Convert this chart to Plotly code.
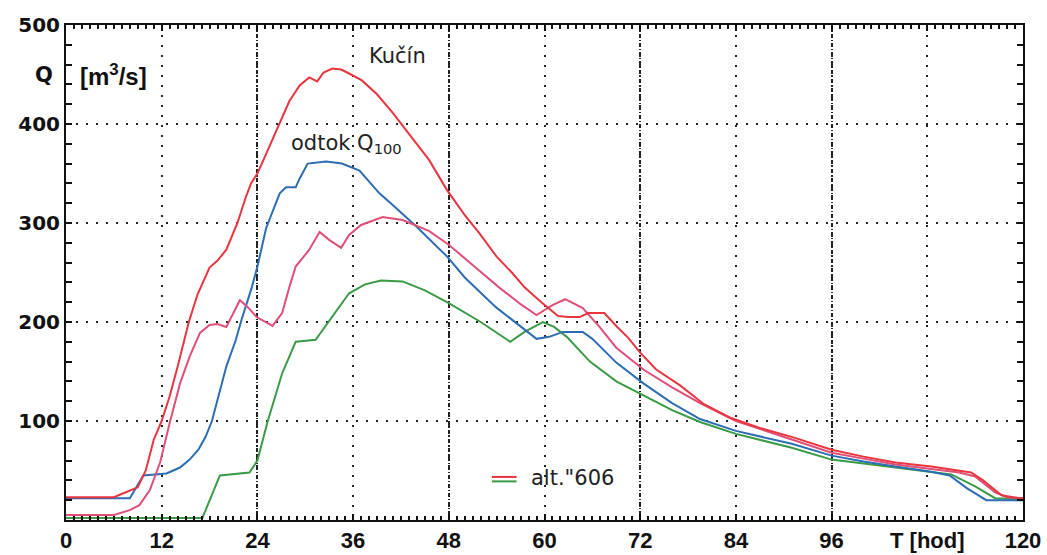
import plotly.graph_objects as go

# ---------------- data ----------------
kucin_t = [0, 6, 7.5, 9, 10, 11, 12, 13, 14, 15.4, 16.5, 18, 19, 20.1, 21.5, 22.5, 23.2, 24, 25,
           26.8, 28, 29.3, 30.5, 31.5, 32.3, 33.4, 34.5, 35.5, 37.1, 39, 41, 43, 45.5, 47.8, 50,
           51.8, 54, 55.9, 57.5, 59.6, 61.7, 63, 64.4, 65.5, 67.5, 69, 70.5, 72, 74, 77, 80, 83.4,
           87, 91, 96, 100, 104, 108.5, 111, 113.5, 115, 117.3, 119.5, 120]
kucin_q = [23, 23, 28, 33, 50, 81, 100, 125, 155, 200, 228, 255, 262, 273, 300, 325, 340, 350, 368,
           400, 423, 439, 447, 443, 452, 456, 455, 451, 444, 430, 411, 390, 364, 333, 308,
           290, 266, 250, 235, 220, 206, 205, 205, 209, 209, 196, 184, 169, 152, 136, 117, 103,
           93, 84, 71, 64, 58, 54, 51, 48, 40, 25, 22, 22]

alt_t = [0, 6, 8, 9.2, 10.5, 11.8, 13, 14.3, 15.5, 16.8, 18, 19, 20.1, 21, 21.8, 22.8, 23.9, 25.9,
         27.1, 28, 28.8, 30.5, 31.8, 33, 34.5, 35.5, 37, 39.7, 42.2, 45.5, 48, 51.8, 54.3, 57, 59,
         61, 62.6, 64.8, 66.9, 69, 72.4, 76, 79.5, 84, 91, 96, 100, 104, 108, 112, 114, 116.5,
         118, 120]
alt_q = [5, 5, 10, 15, 30, 58, 98, 138, 165, 189, 197, 198, 195, 210, 222, 215, 205, 196,
         209, 235, 256, 273, 291, 283, 275, 288, 298, 306, 303, 292, 278, 252, 235, 218, 207,
         217, 223, 214, 195, 174, 152, 134, 118, 100, 81, 68, 62, 56, 52, 48, 44, 28,
         23, 22]

odtok_t = [0, 8, 9.7, 12.6, 14.3, 15.5, 16.6, 17.5, 18.3, 19.1, 20.1, 21.3, 22, 23.3, 24, 25.1,
           26.8, 27.6, 28.8, 29.3, 30.3, 32.6, 34.6, 36.8, 39.3, 41, 44, 47.8, 50, 53.9, 56.4, 59,
           60.6, 62.3, 64.8, 66, 69, 72.4, 76, 79.5, 84, 91, 96, 100, 104, 108.3, 110.8, 113,
           115.4, 120]
odtok_q = [22, 22, 45, 47, 53, 61, 71, 84, 100, 125, 155, 182, 202, 235, 256, 295,
           330, 336, 336, 345, 360, 362, 360, 353, 330, 318, 296, 266, 245, 215, 199, 183,
           185, 190, 190, 183, 159, 138, 118, 102, 90, 77, 65, 59, 54, 49, 45, 32,
           20, 20]

g606_t = [0, 17.1, 19.3, 23, 24, 25.3, 27.1, 28.8, 31.3, 33.4, 35.5, 37.5, 39.5, 42.2, 45, 48,
          52, 55.7, 57.5, 59.8, 61.2, 62.8, 65.7, 69, 72.4, 76, 79.5, 84, 91, 96, 100, 104,
          108.3, 111, 114, 116.5, 120]
g606_q = [2, 2, 45, 48, 60, 100, 148, 180, 182, 205, 229, 238, 242, 241, 232, 219,
          200, 180, 190, 200, 195, 185, 160, 140, 126, 111, 99, 87, 73, 61, 57, 53,
          48, 46, 34, 22, 21]

x_ticks = [0, 12, 24, 36, 48, 60, 72, 84, 96, 108, 120]
x_labels = ["0", "12", "24", "36", "48", "60", "72", "84", "96", "T [hod]", "120"]
x_dense = [24, 48, 72, 96]
y_ticks = [100, 200, 300, 400, 500]
y_labels = ["100", "200", "300", "400", "500"]

RED = "#e8353f"
PINK = "#df4f78"
BLUE = "#2c6db3"
GREEN = "#3b9a46"

fig = go.Figure()
fig.add_trace(go.Scatter(x=g606_t, y=g606_q, mode="lines", line=dict(color=GREEN, width=2),
                         name='alt."606'))
fig.add_trace(go.Scatter(x=odtok_t, y=odtok_q, mode="lines", line=dict(color=BLUE, width=2),
                         name="odtok Q100"))
fig.add_trace(go.Scatter(x=alt_t, y=alt_q, mode="lines", line=dict(color=PINK, width=2),
                         name="alt"))
fig.add_trace(go.Scatter(x=kucin_t, y=kucin_q, mode="lines", line=dict(color=RED, width=2),
                         name="Kučín"))

# helper invisible trace on xaxis2 so its dense grid is drawn
fig.add_trace(go.Scatter(x=[None], y=[None], xaxis="x2", showlegend=False, hoverinfo="skip"))

fig.update_layout(
    width=1047, height=555,
    margin=dict(l=66, r=24, t=25, b=35),
    paper_bgcolor="white", plot_bgcolor="white",
    showlegend=False,
    xaxis=dict(range=[0, 120], tickvals=x_ticks, ticktext=x_labels,
               showgrid=True, gridcolor="#222", gridwidth=2, griddash="2px,8px",
               showline=True, linecolor="#111", linewidth=2, mirror="allticks",
               ticks="inside", ticklen=6, tickcolor="#111", tickwidth=2,
               minor=dict(dtick=1, tick0=0, ticks="inside", ticklen=4, tickcolor="#111",
                          tickwidth=1.5, showgrid=False),
               tickfont=dict(family="Liberation Sans", size=22, color="#111", weight="bold"),
               zeroline=False, automargin=False),
    xaxis2=dict(range=[0, 120], overlaying="x", tickvals=x_dense, showticklabels=False,
                ticks="", showline=False, showgrid=True, gridcolor="#222", gridwidth=2,
                griddash="4px,2px,1px,2px", zeroline=False, automargin=False),
    yaxis=dict(range=[0, 500], tickvals=y_ticks, ticktext=y_labels,
               showgrid=True, gridcolor="#222", gridwidth=2, griddash="2px,8px",
               showline=True, linecolor="#111", linewidth=2, mirror="allticks",
               ticks="inside", ticklen=6, tickcolor="#111", tickwidth=2,
               minor=dict(dtick=20, tick0=0, ticks="inside", ticklen=5, tickcolor="#111",
                          tickwidth=1.5, showgrid=False),
               tickfont=dict(family="DejaVu Sans", size=20, color="#111", weight="bold"),
               zeroline=False, automargin=False),
)

fig.add_annotation(text="Q", xref="paper", x=-0.035, yref="y", y=450, showarrow=False,
                   font=dict(family="DejaVu Sans", size=21, color="#111", weight="bold"))
fig.add_annotation(text="[m<sup>3</sup>/s]", xref="x", x=5.9, yref="y", y=450, showarrow=False,
                   font=dict(family="Liberation Sans", size=24, color="#111", weight="bold"))
fig.add_annotation(text="Kučín", x=41.6, y=469, showarrow=False,
                   font=dict(family="DejaVu Sans", size=21, color="#222"))
fig.add_annotation(text="odtok Q<sub>100</sub>", x=35.2, y=380, showarrow=False,
                   font=dict(family="DejaVu Sans", size=21, color="#222"))
fig.add_annotation(text='alt."606', x=63.5, y=42, showarrow=False,
                   font=dict(family="DejaVu Sans", size=21, color="#222"))

# legend key lines next to alt."606
fig.add_shape(type="line", x0=53.4, x1=56.5, y0=43.5, y1=43.5, line=dict(color=RED, width=2))
fig.add_shape(type="line", x0=53.4, x1=56.5, y0=39, y1=39, line=dict(color=GREEN, width=2))

fig.write_html("out.html")
